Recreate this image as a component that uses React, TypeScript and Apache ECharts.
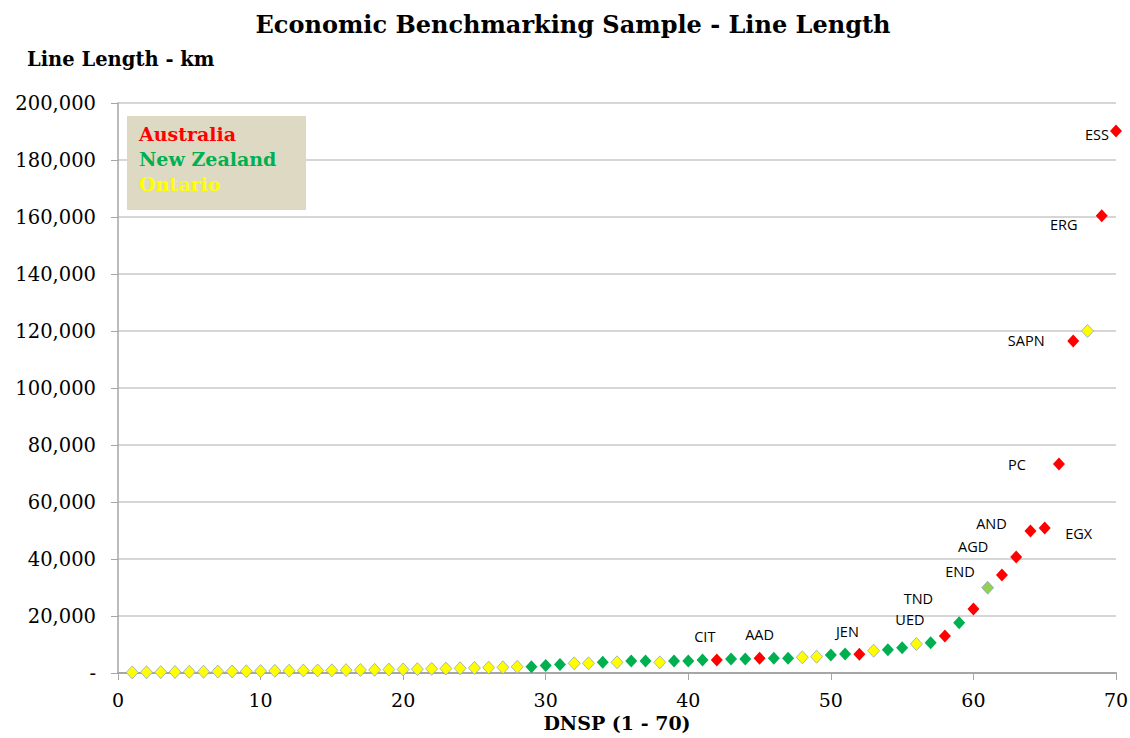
import React, { useEffect, useRef } from "react";
import * as echarts from "echarts";

// DNSP index 1..70
const dnsp: number[] = Array.from({ length: 70 }, (_, i) => i + 1);

// Line length (km)
const lineLength: number[] = [
  200, 250, 300, 350, 400, 450, 500, 550, 600, 700,
  750, 800, 850, 900, 950, 1000, 1050, 1100, 1200, 1250,
  1350, 1450, 1550, 1650, 1750, 1900, 2000, 2150, 2200, 2600,
  3000, 3400, 3400, 3750, 3750, 4200, 4200, 3750, 4200, 4200,
  4560, 4560, 4900, 4900, 5150, 5150, 5150, 5500, 5730, 6300,
  6670, 6550, 7830, 8180, 8880, 10180, 10630, 12990, 17650, 22460,
  29930, 34400, 40700, 49800, 50900, 73300, 116500, 120000, 160400, 190200,
];

// Region code per DNSP: A = Australia, N = New Zealand, O = Ontario, L = highlighted
const region: string[] = [
  "O", "O", "O", "O", "O", "O", "O", "O", "O", "O",
  "O", "O", "O", "O", "O", "O", "O", "O", "O", "O",
  "O", "O", "O", "O", "O", "O", "O", "O", "N", "N",
  "N", "O", "O", "N", "O", "N", "N", "O", "N", "N",
  "N", "A", "N", "N", "A", "N", "N", "O", "O", "N",
  "N", "A", "O", "N", "N", "O", "N", "A", "N", "A",
  "L", "A", "A", "A", "A", "A", "A", "O", "A", "A",
];

// Point labels (DNSP number -> name)
const labelNames: Record<number, string> = {
  42: "CIT", 45: "AAD", 52: "JEN", 58: "UED", 60: "TND", 62: "END",
  63: "AGD", 64: "AND", 65: "EGX", 66: "PC", 67: "SAPN", 69: "ERG", 70: "ESS",
};

// Label offsets in pixels (style)
const labelOffsets: Record<number, [number, number]> = {
  42: [-12, -24], 45: [0, -24], 52: [-12, -23], 58: [-35, -16], 60: [-55, -10],
  62: [-42, -3], 63: [-43, -11], 64: [-39, -8], 65: [34, 6], 66: [-42, 0],
  67: [-47, 0], 69: [-38, 9], 70: [-19, 4],
};

const legendLabels = ["Australia", "New Zealand", "Ontario"];
const yTicks = [0, 20000, 40000, 60000, 80000, 100000, 120000, 140000, 160000, 180000, 200000];

const regionStyles: Record<string, { name: string; color: string; border: string; bw: number }> = {
  A: { name: "Australia", color: "#FF0000", border: "#FF0000", bw: 0 },
  N: { name: "New Zealand", color: "#00B050", border: "#00B050", bw: 0 },
  O: { name: "Ontario", color: "#FFFF00", border: "#8FA6BC", bw: 0.8 },
  L: { name: "Highlight", color: "#92D050", border: "#8FA6BC", bw: 0.8 },
};

const SERIF = "'DejaVu Serif', 'Liberation Serif', serif";

export default function App() {
  const ref = useRef<HTMLDivElement>(null);
  useEffect(() => {
    if (!ref.current) return;
    const chart = echarts.init(ref.current, undefined, { renderer: "svg" });
    const series = Object.keys(regionStyles).map((code) => {
      const st = regionStyles[code];
      const data = dnsp
        .map((d, i) => ({ d, i }))
        .filter(({ i }) => region[i] === code)
        .map(({ d, i }) => {
          const item: any = { value: [d, lineLength[i]] };
          if (labelNames[d]) {
            item.label = {
              show: true,
              formatter: labelNames[d],
              position: "inside",
              offset: labelOffsets[d],
              align: "center",
              verticalAlign: "middle",
              color: "#000",
              fontFamily: "'Open Sans', 'Noto Sans', sans-serif",
              fontSize: 14.5,
            };
          }
          return item;
        });
      return {
        type: "scatter",
        name: st.name,
        symbol: "diamond",
        symbolSize: [12, 13],
        itemStyle: { color: st.color, borderColor: st.border, borderWidth: st.bw, opacity: 1 },
        label: { show: false },
        data,
        z: 5,
      };
    });

    chart.setOption({
      animation: false,
      backgroundColor: "#ffffff",
      title: {
        text: "Economic Benchmarking Sample - Line Length",
        left: 568,
        textAlign: "center",
        top: 7,
        textStyle: { fontFamily: SERIF, fontWeight: "bold", fontSize: 24, color: "#000" },
      },
      grid: { left: 118, right: 14, top: 103, bottom: 65, containLabel: false, outerBoundsMode: "none" },
      xAxis: {
        type: "value",
        min: 0,
        max: 70,
        interval: 10,
        name: "DNSP (1 - 70)",
        nameLocation: "middle",
        nameGap: 39,
        nameTextStyle: { fontFamily: SERIF, fontWeight: "bold", fontSize: 19, color: "#000" },
        axisLine: { show: true, onZero: false, lineStyle: { color: "#A6A6A6", width: 2 } },
        axisTick: { show: true, inside: false, length: 7, lineStyle: { color: "#A6A6A6", width: 1 } },
        axisLabel: { fontFamily: SERIF, fontSize: 19, color: "#000", margin: 17 },
        splitLine: { show: false },
      },
      yAxis: {
        type: "value",
        min: 0,
        max: 200000,
        interval: 20000,
        axisLine: { show: true, lineStyle: { color: "#A6A6A6", width: 1.5 } },
        axisTick: { show: true, inside: false, length: 7, lineStyle: { color: "#A6A6A6" } },
        axisLabel: {
          fontFamily: SERIF,
          fontSize: 19.5,
          color: "#000",
          margin: 22,
          formatter: (v: number) => (yTicks.indexOf(v) === 0 ? "-" : v.toLocaleString("en-US")),
        },
        splitLine: { show: true, lineStyle: { color: "#C8C8C8", width: 1.5 } },
      },
      graphic: [
        {
          type: "text",
          left: 27,
          top: 49,
          style: { text: "Line Length - km", fontFamily: SERIF, fontWeight: "bold", fontSize: 19.5, fill: "#000" },
        },
        {
          type: "rect",
          shape: { x: 127, y: 116, width: 179, height: 94 },
          style: { fill: "#DDD9C3" },
          z: 10,
        },
        ...legendLabels.map((t, i) => ({
          type: "text",
          x: 139,
          y: 134 + i * 25,
          z: 11,
          style: {
            text: t,
            fontFamily: SERIF,
            fontWeight: "bold",
            fontSize: 19,
            fill: ["#FF0000", "#00B050", "#FFFF00"][i],
            verticalAlign: "middle",
          },
        })),
      ],
      series,
    });
    return () => chart.dispose();
  }, []);
  return (
    <div
      ref={ref}
      style={{ position: "fixed", left: 0, top: 0, width: 1130, height: 738 }}
    />
  );
}
